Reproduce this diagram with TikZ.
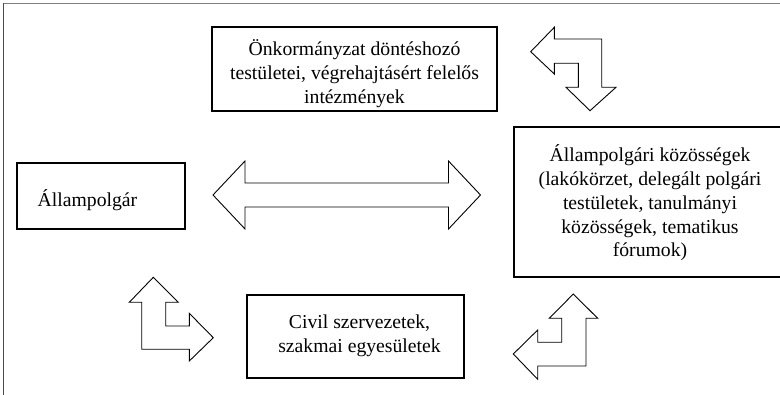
\documentclass[tikz,border=0pt]{standalone}
\usepackage{fontspec}
\setmainfont{Liberation Serif}
\begin{document}
\begin{tikzpicture}[x=1pt,y=-1pt,
  box/.style={draw=black, line width=1.1pt, rectangle, inner sep=0pt},
  txt/.style={inner sep=0pt, align=center, font=\fontsize{19.7}{23.8}\selectfont},
  blockarrow/.style={draw=black, line width=0.9pt, fill=white, line join=miter}]
\useasboundingbox (0,0) rectangle (780,395);

% outer frame, only its top and left edges fall inside the page
\draw[line width=1.3pt, gray] (3.5,3.5) -- (800,3.5);
\draw[line width=1.3pt, black!70] (3.5,3.5) -- (3.5,400);

% boxes
\node[box, minimum width=285pt, minimum height=84pt] (gov) at (354.5,69) {};
\node[txt] (govtext) at ([yshift=-4.5pt]gov.center)
  {Önkormányzat döntéshozó\\testületei, végrehajtásért felelős\\intézmények};

\node[box, minimum width=168pt, minimum height=66pt] (citizen) at (101,196) {};
\node[txt, anchor=west] (citizentext) at ([xshift=21pt, yshift=-4pt]citizen.west)
  {Állampolgár};

\node[box, minimum width=272pt, minimum height=150pt] (comm) at (650,202) {};
\node[txt] (commtext) at ([yshift=-1pt]comm.center)
  {Állampolgári közösségek\\(lakókörzet, delegált polgári\\testületek, tanulmányi\\közösségek, tematikus\\fórumok)};

\node[box, minimum width=217pt, minimum height=83pt] (civil) at (355.5,336.5) {};
\node[txt] (civiltext) at ([xshift=4pt, yshift=0.5pt]civil.center)
  {Civil szervezetek,\\szakmai egyesületek};

% two-headed arrow between the citizen and the communities
\draw[blockarrow] (213,195) -- (245,161) -- (245,183) -- (448.5,183) -- (448.5,161)
  -- (480.5,195) -- (448.5,229) -- (448.5,207) -- (245,207) -- (245,229) -- cycle;

% bent arrow: council <-> communities
\draw[blockarrow] (530.7,51.7) -- (554.3,27.3) -- (554.3,39) -- (601.7,39) -- (601.7,87.3)
  -- (616,87.3) -- (590,110.7) -- (566,87.3) -- (578.3,87.3) -- (578.3,63.3)
  -- (554.3,63.3) -- (554.3,74) -- cycle;

% bent arrow: citizen <-> civil organisations
\draw[blockarrow] (153.3,277.3) -- (178.3,302.3) -- (165.7,302.3) -- (165.7,326)
  -- (189.3,326) -- (189.3,313.3) -- (213.3,337.7) -- (189.3,361) -- (189.3,349.3)
  -- (141.7,349.3) -- (141.7,302.3) -- (129.3,302.3) -- cycle;

% bent arrow: civil organisations <-> communities
\draw[blockarrow] (573.3,294) -- (597.7,318.3) -- (586,318.3) -- (586,366)
  -- (537.7,366) -- (537.7,379.3) -- (513.3,354) -- (537.7,330) -- (537.7,342.3)
  -- (561.7,342.3) -- (561.7,318.3) -- (549.3,318.3) -- cycle;
\end{tikzpicture}
\end{document}
